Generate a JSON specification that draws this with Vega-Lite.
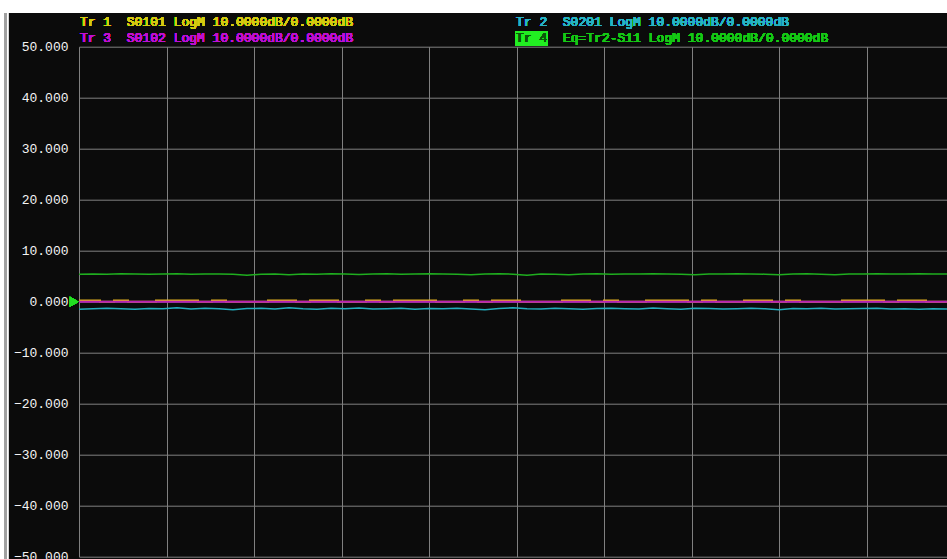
{
  "$schema": "https://vega.github.io/schema/vega-lite/v6.json",
  "width": 868,
  "height": 510,
  "autosize": {"type": "none"},
  "padding": {"left": 79, "top": 46.7, "right": 0, "bottom": 2.3},
  "background": "#0b0b0b",
  "config": {
    "view": {"stroke": null},
    "axis": {"gridColor": "#808080", "gridWidth": 1, "gridOpacity": 1, "domain": false, "ticks": false, "title": null},
    "axisY": {"labelColor": "#f4f4f4", "labelFont": "Liberation Mono", "labelFontSize": 13, "labelPadding": 11},
    "axisX": {"labels": false}
  },
  "data": {
    "values": [
      {"x": 0, "tr1": 0.25, "tr2": -1.5, "tr3": 0.0, "tr4": 5.4},
      {"x": 0.16, "tr1": 0.25, "tr2": -1.4, "tr3": 0.0, "tr4": 5.45},
      {"x": 0.32, "tr1": 0.0, "tr2": -1.3, "tr3": 0.0, "tr4": 5.4},
      {"x": 0.48, "tr1": 0.25, "tr2": -1.4, "tr3": 0.0, "tr4": 5.5},
      {"x": 0.64, "tr1": 0.0, "tr2": -1.5, "tr3": 0.0, "tr4": 5.45},
      {"x": 0.8, "tr1": 0.0, "tr2": -1.35, "tr3": 0.0, "tr4": 5.4},
      {"x": 0.96, "tr1": 0.25, "tr2": -1.4, "tr3": 0.0, "tr4": 5.45},
      {"x": 1.12, "tr1": 0.25, "tr2": -1.2, "tr3": 0.0, "tr4": 5.5},
      {"x": 1.28, "tr1": 0.25, "tr2": -1.45, "tr3": 0.0, "tr4": 5.4},
      {"x": 1.44, "tr1": 0.0, "tr2": -1.3, "tr3": 0.0, "tr4": 5.45},
      {"x": 1.6, "tr1": 0.25, "tr2": -1.4, "tr3": 0.0, "tr4": 5.45},
      {"x": 1.76, "tr1": 0.0, "tr2": -1.6, "tr3": 0.0, "tr4": 5.4},
      {"x": 1.92, "tr1": 0.0, "tr2": -1.35, "tr3": 0.0, "tr4": 5.2},
      {"x": 2.08, "tr1": 0.0, "tr2": -1.3, "tr3": 0.0, "tr4": 5.4},
      {"x": 2.24, "tr1": 0.25, "tr2": -1.45, "tr3": 0.0, "tr4": 5.45},
      {"x": 2.4, "tr1": 0.25, "tr2": -1.2, "tr3": 0.0, "tr4": 5.3},
      {"x": 2.56, "tr1": 0.0, "tr2": -1.4, "tr3": 0.0, "tr4": 5.45},
      {"x": 2.72, "tr1": 0.25, "tr2": -1.5, "tr3": 0.0, "tr4": 5.4},
      {"x": 2.88, "tr1": 0.25, "tr2": -1.3, "tr3": 0.0, "tr4": 5.5},
      {"x": 3.04, "tr1": 0.0, "tr2": -1.4, "tr3": 0.0, "tr4": 5.45},
      {"x": 3.2, "tr1": 0.0, "tr2": -1.25, "tr3": 0.0, "tr4": 5.35},
      {"x": 3.36, "tr1": 0.25, "tr2": -1.45, "tr3": 0.0, "tr4": 5.45},
      {"x": 3.52, "tr1": 0.0, "tr2": -1.4, "tr3": 0.0, "tr4": 5.5},
      {"x": 3.68, "tr1": 0.25, "tr2": -1.3, "tr3": 0.0, "tr4": 5.4},
      {"x": 3.84, "tr1": 0.25, "tr2": -1.5, "tr3": 0.0, "tr4": 5.45},
      {"x": 4.0, "tr1": 0.25, "tr2": -1.35, "tr3": 0.0, "tr4": 5.5},
      {"x": 4.16, "tr1": 0.0, "tr2": -1.4, "tr3": 0.0, "tr4": 5.45},
      {"x": 4.32, "tr1": 0.0, "tr2": -1.3, "tr3": 0.0, "tr4": 5.4},
      {"x": 4.48, "tr1": 0.25, "tr2": -1.45, "tr3": 0.0, "tr4": 5.3},
      {"x": 4.64, "tr1": 0.0, "tr2": -1.6, "tr3": 0.0, "tr4": 5.45},
      {"x": 4.8, "tr1": 0.25, "tr2": -1.35, "tr3": 0.0, "tr4": 5.5},
      {"x": 4.96, "tr1": 0.25, "tr2": -1.2, "tr3": 0.0, "tr4": 5.4},
      {"x": 5.12, "tr1": 0.0, "tr2": -1.4, "tr3": 0.0, "tr4": 5.2},
      {"x": 5.28, "tr1": 0.0, "tr2": -1.45, "tr3": 0.0, "tr4": 5.45},
      {"x": 5.44, "tr1": 0.0, "tr2": -1.3, "tr3": 0.0, "tr4": 5.4},
      {"x": 5.6, "tr1": 0.25, "tr2": -1.4, "tr3": 0.0, "tr4": 5.3},
      {"x": 5.76, "tr1": 0.25, "tr2": -1.5, "tr3": 0.0, "tr4": 5.45},
      {"x": 5.92, "tr1": 0.0, "tr2": -1.35, "tr3": 0.0, "tr4": 5.5},
      {"x": 6.08, "tr1": 0.25, "tr2": -1.3, "tr3": 0.0, "tr4": 5.4},
      {"x": 6.24, "tr1": 0.0, "tr2": -1.4, "tr3": 0.0, "tr4": 5.45},
      {"x": 6.4, "tr1": 0.0, "tr2": -1.45, "tr3": 0.0, "tr4": 5.45},
      {"x": 6.56, "tr1": 0.25, "tr2": -1.25, "tr3": 0.0, "tr4": 5.5},
      {"x": 6.72, "tr1": 0.25, "tr2": -1.4, "tr3": 0.0, "tr4": 5.45},
      {"x": 6.88, "tr1": 0.25, "tr2": -1.5, "tr3": 0.0, "tr4": 5.4},
      {"x": 7.04, "tr1": 0.0, "tr2": -1.3, "tr3": 0.0, "tr4": 5.3},
      {"x": 7.2, "tr1": 0.25, "tr2": -1.35, "tr3": 0.0, "tr4": 5.45},
      {"x": 7.36, "tr1": 0.0, "tr2": -1.45, "tr3": 0.0, "tr4": 5.45},
      {"x": 7.52, "tr1": 0.0, "tr2": -1.4, "tr3": 0.0, "tr4": 5.5},
      {"x": 7.68, "tr1": 0.25, "tr2": -1.3, "tr3": 0.0, "tr4": 5.45},
      {"x": 7.84, "tr1": 0.25, "tr2": -1.4, "tr3": 0.0, "tr4": 5.4},
      {"x": 8.0, "tr1": 0.0, "tr2": -1.6, "tr3": 0.0, "tr4": 5.3},
      {"x": 8.16, "tr1": 0.25, "tr2": -1.35, "tr3": 0.0, "tr4": 5.45},
      {"x": 8.32, "tr1": 0.0, "tr2": -1.4, "tr3": 0.0, "tr4": 5.5},
      {"x": 8.48, "tr1": 0.0, "tr2": -1.3, "tr3": 0.0, "tr4": 5.4},
      {"x": 8.64, "tr1": 0.0, "tr2": -1.45, "tr3": 0.0, "tr4": 5.3},
      {"x": 8.8, "tr1": 0.25, "tr2": -1.4, "tr3": 0.0, "tr4": 5.45},
      {"x": 8.96, "tr1": 0.25, "tr2": -1.35, "tr3": 0.0, "tr4": 5.45},
      {"x": 9.12, "tr1": 0.25, "tr2": -1.3, "tr3": 0.0, "tr4": 5.5},
      {"x": 9.28, "tr1": 0.0, "tr2": -1.45, "tr3": 0.0, "tr4": 5.45},
      {"x": 9.44, "tr1": 0.25, "tr2": -1.4, "tr3": 0.0, "tr4": 5.45},
      {"x": 9.6, "tr1": 0.25, "tr2": -1.5, "tr3": 0.0, "tr4": 5.5},
      {"x": 9.76, "tr1": 0.0, "tr2": -1.4, "tr3": 0.0, "tr4": 5.45},
      {"x": 9.92, "tr1": 0.0, "tr2": -1.45, "tr3": 0.0, "tr4": 5.45}
    ]
  },
  "layer": [
    {
      "mark": {"type": "line", "color": "#1fae1f", "strokeWidth": 1.5},
      "encoding": {
        "x": {"field": "x", "type": "quantitative", "scale": {"domain": [0, 9.92], "nice": false, "zero": false}, "axis": {"values": [0, 1, 2, 3, 4, 5, 6, 7, 8, 9], "title": null}},
        "y": {"field": "tr4", "type": "quantitative", "scale": {"domain": [-50, 50], "nice": false, "zero": false}, "axis": {"values": [-50, -40, -30, -20, -10, 0, 10, 20, 30, 40, 50], "format": ".3f", "title": null}}
      }
    },
    {
      "mark": {"type": "line", "color": "#22aebe", "strokeWidth": 1.5},
      "encoding": {
        "x": {"field": "x", "type": "quantitative"},
        "y": {"field": "tr2", "type": "quantitative"}
      }
    },
    {
      "mark": {"type": "line", "color": "#e0b020", "strokeWidth": 2, "interpolate": "step"},
      "encoding": {
        "x": {"field": "x", "type": "quantitative"},
        "y": {"field": "tr1", "type": "quantitative"}
      }
    },
    {
      "mark": {"type": "line", "color": "#b520b5", "strokeWidth": 2},
      "encoding": {
        "x": {"field": "x", "type": "quantitative"},
        "y": {"field": "tr3", "type": "quantitative"}
      }
    },
    {
      "mark": {"type": "rect", "color": "#ffffff", "clip": false},
      "encoding": {"x": {"datum": -0.91}, "x2": {"datum": 9.92}, "y": {"datum": 56.6}, "y2": {"datum": 59.5}}
    },
    {
      "mark": {"type": "rect", "color": "#ffffff", "clip": false},
      "encoding": {"x": {"datum": -0.91}, "x2": {"datum": -0.811}, "y": {"datum": -51}, "y2": {"datum": 59.5}}
    },
    {
      "mark": {"type": "rect", "color": "#a0a0a0", "clip": false},
      "encoding": {"x": {"datum": -0.851}, "x2": {"datum": -0.831}, "y": {"datum": -51}, "y2": {"datum": 56.6}}
    },
    {
      "mark": {"type": "rect", "color": "#22ee22", "clip": false},
      "encoding": {"x": {"datum": 4.983}, "x2": {"datum": 5.36}, "y": {"datum": 50.2}, "y2": {"datum": 53.08}}
    },
    {
      "mark": {"type": "point", "shape": "triangle-right", "filled": true, "color": "#22dd22", "size": 100, "opacity": 1, "clip": false},
      "encoding": {"x": {"datum": -0.055}, "y": {"datum": 0}}
    },
    {
      "mark": {"type": "text", "align": "left", "baseline": "middle", "font": "Liberation Mono", "fontSize": 13, "color": "#d6cc10", "clip": false},
      "encoding": {"x": {"datum": 0.011}, "y": {"datum": 54.75}, "text": {"value": "Tr 1\u00a0\u00a0S0101 LogM 10.0000dB/0.0000dB"}}
    },
    {
      "mark": {"type": "text", "align": "left", "baseline": "middle", "font": "Liberation Mono", "fontSize": 13, "color": "#c010d0", "clip": false},
      "encoding": {"x": {"datum": 0.011}, "y": {"datum": 51.76}, "text": {"value": "Tr 3\u00a0\u00a0S0102 LogM 10.0000dB/0.0000dB"}}
    },
    {
      "mark": {"type": "text", "align": "left", "baseline": "middle", "font": "Liberation Mono", "fontSize": 13, "color": "#28b4c4", "clip": false},
      "encoding": {"x": {"datum": 4.994}, "y": {"datum": 54.75}, "text": {"value": "Tr 2\u00a0\u00a0S0201 LogM 10.0000dB/0.0000dB"}}
    },
    {
      "mark": {"type": "text", "align": "left", "baseline": "middle", "font": "Liberation Mono", "fontSize": 13, "color": "#0a5a0a", "clip": false},
      "encoding": {"x": {"datum": 4.994}, "y": {"datum": 51.76}, "text": {"value": "Tr 4"}}
    },
    {
      "mark": {"type": "text", "align": "left", "baseline": "middle", "font": "Liberation Mono", "fontSize": 13, "color": "#16c816", "clip": false},
      "encoding": {"x": {"datum": 5.531}, "y": {"datum": 51.76}, "text": {"value": "Eq=Tr2-S11 LogM 10.0000dB/0.0000dB"}}
    }
  ]
}
